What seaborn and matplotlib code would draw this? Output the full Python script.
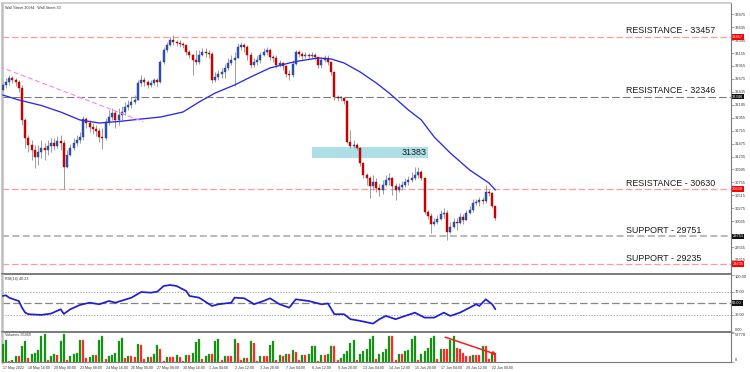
import matplotlib
matplotlib.use("Agg")
import matplotlib.pyplot as plt
from matplotlib.patches import Rectangle
import numpy as np
import seaborn as sns

sns.set_theme(style="white")
plt.rcParams["font.family"] = ["Liberation Sans", "DejaVu Sans"]
plt.rcParams["lines.scale_dashes"] = False

# ---------------- data ----------------
title_text = "Wall Street 30,H4:  Wall Street 30"
rsi_label = "RSI(14) 40.23"
vol_label = "Volumes 35969"

first_open = 32470
closes = [32562, 32618, 32692, 32655, 32618, 32507, 31913, 31579, 31449, 31356,
          31226, 31319, 31393, 31356, 31430, 31486, 31430, 31523, 31486, 31040,
          31263, 31393, 31486, 31542, 31597, 31931, 31857, 31783, 31746, 31709,
          31597, 31579, 31876, 31968, 32043, 31913, 32006, 32061, 32154, 32191,
          32247, 32284, 32600, 32655, 32618, 32562, 32600, 32655, 32618, 32989,
          33212, 33305, 33398, 33360, 33342, 33323, 33305, 33175, 33119, 33026,
          32989, 33119, 33175, 33156, 33138, 32655, 32711, 32767, 32804, 32878,
          32971, 33026, 33064, 33268, 33305, 33268, 33119, 32934, 32989, 33026,
          33119, 33175, 33212, 33082, 33064, 32934, 32971, 32915, 32767, 32748,
          32952, 33175, 33138, 33101, 33119, 33101, 33119, 33082, 32934, 33026,
          33064, 32989, 32804, 32340, 32321, 32321, 32265, 31505, 31430, 31449,
          31393, 31115, 30892, 30836, 30688, 30762, 30651, 30614, 30706, 30799,
          30836, 30688, 30614, 30669, 30706, 30762, 30799, 30836, 30892, 30948,
          30836, 30205, 30131, 29983, 30020, 30075, 30168, 30187, 29834, 29927,
          30020, 30001, 30112, 30057, 30187, 30242, 30372, 30391, 30428, 30409,
          30577, 30558, 30316, 30094]
highs = [32655, 32692, 32748, 32729, 32692, 32655, 32562, 31950, 31634, 31542,
         31449, 31449, 31542, 31486, 31542, 31579, 31579, 31616, 31634, 31542,
         31356, 31467, 31579, 31634, 31690, 31987, 31968, 31913, 31857, 31820,
         31764, 31764, 31950, 32098, 32135, 32098, 32135, 32173, 32247, 32284,
         32340, 32377, 32655, 32748, 32711, 32655, 32655, 32692, 32692, 33026,
         33268, 33360, 33453, 33490, 33398, 33398, 33360, 33305, 33212, 33138,
         33212, 33212, 33249, 33249, 33212, 33175, 32804, 32841, 32878, 32952,
         33064, 33119, 33175, 33342, 33360, 33342, 33305, 33175, 33064, 33101,
         33175, 33249, 33268, 33249, 33119, 33119, 33026, 32989, 32934, 32841,
         33026, 33212, 33212, 33175, 33175, 33156, 33175, 33156, 33082, 33082,
         33119, 33119, 32989, 32804, 32377, 32358, 32340, 32284, 31727, 31542,
         31486, 31412, 31133, 30929, 30873, 30892, 30836, 30725, 30799, 30892,
         30929, 30855, 30744, 30744, 30781, 30836, 30873, 30948, 31040, 31040,
         30985, 30855, 30242, 30187, 30094, 30150, 30242, 30279, 30242, 30020,
         30094, 30094, 30187, 30168, 30242, 30316, 30447, 30447, 30484, 30484,
         30706, 30614, 30577, 30316]
lows = [32432, 32507, 32562, 32600, 32544, 32432, 31820, 31393, 31319, 31170,
        31022, 31078, 31208, 31170, 31263, 31319, 31356, 31393, 31356, 30632,
        31022, 31245, 31356, 31430, 31486, 31542, 31764, 31690, 31653, 31616,
        31505, 31375, 31542, 31820, 31913, 31764, 31820, 31913, 32006, 32098,
        32135, 32210, 32284, 32544, 32544, 32507, 32525, 32562, 32544, 32600,
        32952, 33175, 33286, 33305, 33286, 33268, 33249, 33119, 33064, 32748,
        32934, 32952, 33101, 33082, 33064, 32600, 32618, 32655, 32692, 32692,
        32841, 32934, 32544, 33064, 33212, 33175, 33026, 32878, 32896, 32934,
        32971, 33101, 33119, 33026, 32989, 32878, 32896, 32841, 32711, 32655,
        32711, 32934, 33082, 33045, 33064, 33045, 33064, 33026, 32878, 32878,
        32989, 32934, 32748, 32284, 32265, 32265, 32210, 31486, 31393, 31393,
        31356, 31059, 30836, 30706, 30465, 30614, 30577, 30502, 30539, 30688,
        30706, 30521, 30428, 30577, 30614, 30669, 30706, 30762, 30799, 30836,
        30799, 30168, 30075, 29815, 29945, 29983, 30057, 30094, 29686, 29815,
        29908, 29871, 29983, 29983, 30094, 30168, 30205, 30335, 30316, 30354,
        30372, 30502, 30279, 30057]
volumes = [34000, 40000, 2300, 5000, 12500, 12500, 30000, 39000, 8000, 15000,
           17000, 22000, 48000, 51000, 5000, 12500, 15000, 14000, 39000, 51000,
           5000, 11000, 15000, 17000, 41000, 41000, 8000, 9000, 14000, 14000,
           40000, 48000, 7000, 12000, 13500, 17000, 39000, 44000, 8000, 12000,
           12000, 10000, 33000, 31000, 6000, 9000, 9000, 15000, 31000, 25000,
           3000, 9000, 9000, 9000, 13500, 10000, 3000, 13500, 13500, 17000,
           37000, 43000, 7000, 11000, 15000, 15000, 39000, 43000, 5000, 12000,
           12000, 12000, 43000, 35000, 5000, 8000, 8000,
           38000, 35000, 2900, 11700, 11700, 11700, 32200, 38000, 4700, 13500,
           12000, 15800, 14600, 21600, 19300, 4700, 13500, 13500, 14600, 29250,
           30400, 2900, 12900, 12900, 14600, 29250, 29250, 4700, 8800, 14600,
           20500, 35100, 40900, 4100, 15800, 20500, 24600, 42100, 48000, 7000,
           14600, 19300, 24600, 46800, 46800, 4700, 14600, 14600, 20500, 21600,
           42100, 46800, 4700, 14600, 20500, 26300, 43900, 48000, 7000, 24600,
           24600, 23400, 40900, 48000, 26300, 23400, 17500, 11700, 11700, 12900,
           12900, 12900, 30400, 30400, 5850, 17500, 17500]

ma_bars = [0, 5, 12, 18, 24, 30, 36, 43, 49, 56, 61, 66, 72, 77, 83, 89, 92, 98,
           102, 106, 111, 116, 120, 126, 130, 134, 139, 145, 151, 153]
ma_values = [32377, 32284, 32182, 32061, 31913, 31857, 31885, 31931, 31968, 32061,
             32247, 32414, 32562, 32711, 32878, 32971, 33008, 33064, 33045, 32971,
             32804, 32600, 32414, 32098, 31913, 31597, 31300, 30985, 30744, 30614]

rsi_bars = [0, 1, 2, 4, 5, 6, 7, 8, 12, 15, 18, 19, 21, 24, 27, 30, 33, 35, 40, 43,
            46, 48, 50, 52, 54, 57, 58, 61, 65, 67, 71, 72, 75, 77, 78, 81, 83, 86,
            89, 91, 95, 99, 101, 103, 106, 108, 111, 115, 117, 119, 122, 125, 128,
            131, 134, 137, 139, 142, 145, 147, 148, 150, 152, 153]
rsi_values = [62.9, 64.1, 59.9, 55.8, 54.0, 42.2, 33.4, 30.6, 29.4, 31.7, 39.4, 31.1,
              39.4, 47.0, 51.0, 48.2, 54.0, 51.0, 59.9, 69.9, 68.7, 70.5, 80.5, 82.3,
              80.5, 71.7, 62.9, 59.9, 45.2, 48.2, 51.0, 59.9, 58.8, 52.3, 48.2, 54.0,
              58.8, 48.2, 42.2, 57.0, 54.0, 48.2, 49.6, 30.6, 30.6, 21.8, 18.8, 14.0,
              21.8, 27.6, 21.8, 27.6, 33.4, 24.6, 24.6, 33.4, 27.6, 33.4, 42.2, 48.2,
              45.2, 57.0, 48.2, 39.4]

levels = [33457, 32346, 30630, 29751, 29235]
level_texts = ["RESISTANCE - 33457", "RESISTANCE - 32346", "RESISTANCE - 30630",
               "SUPPORT - 29751", "SUPPORT - 29235"]
level_kinds = ["pink", "grey", "pink", "lightgrey", "pink"]
level_text_bar = 193.5

trend_bars = [-1, 43.7]
trend_prices = [32902, 31881]

zone_bars = [96.2, 132.1]
zone_prices = [31208, 31412]
zone_text = "31383"

# 29795 sits behind the 29751 label box in the reference, so it is left out
price_ticks = [33875, 33635, 33395, 33155, 32915, 32675, 32435, 32195, 31955, 31715,
               31475, 31235, 30995, 30755, 30515, 30275, 30035, 29555, 29315]
rsi_levels = [70, 50, 30]
vol_max = 53778

x_tick_bars = list(range(0, 153, 8))
x_tick_labels = ["17 May 2022", "18 May 16:00", "20 May 00:00", "23 May 08:00",
                 "24 May 16:00", "26 May 00:00", "27 May 08:00", "30 May 16:00",
                 "1 Jun 04:00", "2 Jun 12:00", "3 Jun 20:00", "7 Jun 04:00",
                 "8 Jun 12:00", "9 Jun 20:00", "13 Jun 04:00", "14 Jun 12:00",
                 "15 Jun 20:00", "17 Jun 04:00", "20 Jun 12:00", "22 Jun 00:00"]

arrow_from = (137.4, 45400)
arrow_to = (153.4, 14300)

# ---------------- derived ----------------
n = min(len(closes), len(highs), len(lows))
bars = np.arange(n)
c = np.array(closes[:n], dtype=float)
o = np.array([first_open] + closes[:n - 1], dtype=float)
h = np.array(highs[:n], dtype=float)
l = np.array(lows[:n], dtype=float)
up = c >= o
body_bot = np.minimum(o, c)
body_h = np.maximum(np.abs(c - o), 12)
wick_lo = np.minimum(l, body_bot)
wick_hi = np.maximum(h, np.maximum(o, c))

vol = np.array(volumes, dtype=float)
vbars = np.arange(len(vol))
vol_up = np.concatenate([[True], vol[1:] > vol[:-1]])

# ---------------- figure ----------------
fig = plt.figure(figsize=(7.5, 3.72), dpi=100)
L, W = 0.00333, 0.97067
ax = fig.add_axes([L, 0.26344, W, 0.72849])
ax_rsi = fig.add_axes([L, 0.10887, W, 0.15188], sharex=ax)
ax_vol = fig.add_axes([L, 0.02554, W, 0.0806], sharex=ax)

TICK_FS = 2.9
TXT_C = "#333333"

# main panel
ax.vlines(bars, wick_lo, wick_hi, color="#9c9c9c", lw=0.7, zorder=2)
ax.bar(bars[up], body_h[up], bottom=body_bot[up], width=0.62, color="#2f55b5",
       edgecolor="#1d3c8c", linewidth=0.3, zorder=3)
ax.bar(bars[~up], body_h[~up], bottom=body_bot[~up], width=0.62, color="#d80000",
       edgecolor="#a00000", linewidth=0.3, zorder=3)

sns.lineplot(x=ma_bars, y=ma_values, ax=ax, color="#2a2ae8", lw=0.95, zorder=4)
sns.lineplot(x=trend_bars, y=trend_prices, ax=ax, color="#ff7cff", lw=0.8,
             linestyle=(0, (3.5, 2.0)), zorder=4)

styles = {
    "pink": dict(color="#ff9a9a", lw=0.9, linestyle=(0, (4.8, 2.0))),
    "grey": dict(color="#7c7c7c", lw=0.8, linestyle=(0, (5.5, 2.2))),
    "lightgrey": dict(color="#b4b4b4", lw=1.3, linestyle=(0, (5.0, 2.5))),
}
box_colors = {"pink": "#ff0000", "grey": "#111111", "lightgrey": "#111111"}
for lev, txt, kind in zip(levels, level_texts, level_kinds):
    ax.axhline(lev, zorder=1, **styles[kind])
    ax.annotate(txt, xy=(level_text_bar, lev), xytext=(0, 2.4),
                textcoords="offset points", fontsize=6.4, ha="left",
                va="baseline", color="#1a1a1a")
    ax.text(1.0025, lev, str(lev), transform=ax.get_yaxis_transform(),
            fontsize=TICK_FS, color="white", ha="left", va="center", zorder=6,
            bbox=dict(boxstyle="square,pad=0.2", fc=box_colors[kind], ec="none"),
            clip_on=False)

ax.add_patch(Rectangle((zone_bars[0], zone_prices[0]), zone_bars[1] - zone_bars[0],
                       zone_prices[1] - zone_prices[0], facecolor="#ace0e6",
                       edgecolor="none", zorder=1.5))
ax.text(zone_bars[1] - 0.6, (zone_prices[0] + zone_prices[1]) / 2, zone_text,
        fontsize=6.4, ha="right", va="center", color="#1a1a1a", zorder=5)

ax.text(0.004, 0.992, title_text, transform=ax.transAxes, fontsize=2.7,
        color=TXT_C, ha="left", va="top")

ax.set_xlim(-0.05, 226.0)
ax.set_ylim(29055, 34084)
ax.yaxis.tick_right()
ax.set_yticks(price_ticks)
ax.set_yticklabels([str(t) for t in price_ticks])

# RSI panel
sns.lineplot(x=rsi_bars, y=rsi_values, ax=ax_rsi, color="#1e1ed2", lw=1.25, zorder=3)
for lv in rsi_levels:
    if lv == 50:
        ax_rsi.axhline(lv, color="#858585", lw=0.9, linestyle=(0, (5.5, 2.2)), zorder=1)
    else:
        ax_rsi.axhline(lv, color="#a8a8a8", lw=0.7, linestyle=(0, (1.0, 1.0)), zorder=1)
ax_rsi.set_ylim(0, 100)
ax_rsi.yaxis.tick_right()
ax_rsi.set_yticks([100, 70, 30, 0])
ax_rsi.set_yticklabels(["100.00", "70.00", "30.00", "0.00"])
ax_rsi.text(1.0025, 50, "50.00", transform=ax_rsi.get_yaxis_transform(),
            fontsize=TICK_FS, color="white", ha="left", va="center",
            bbox=dict(boxstyle="square,pad=0.2", fc="#111111", ec="none"), clip_on=False)
ax_rsi.text(0.004, 0.97, rsi_label, transform=ax_rsi.transAxes, fontsize=2.7,
            color=TXT_C, ha="left", va="top")

# Volume panel
ax_vol.bar(vbars[vol_up], vol[vol_up], width=0.62, color="#0c8a0c",
           edgecolor="#48b848", linewidth=0.25, zorder=3)
ax_vol.bar(vbars[~vol_up], vol[~vol_up], width=0.62, color="#ff1a1a",
           edgecolor="#ff7070", linewidth=0.25, zorder=3)
ax_vol.annotate("", xy=arrow_to, xytext=arrow_from,
                arrowprops=dict(arrowstyle="-|>", color="#f02020", lw=1.1,
                                mutation_scale=5, shrinkA=0, shrinkB=0), zorder=5)
ax_vol.set_ylim(0, vol_max)
ax_vol.yaxis.tick_right()
ax_vol.set_yticks([vol_max, 0])
ax_vol.set_yticklabels([str(vol_max), "0"])
ax_vol.text(0.004, 0.97, vol_label, transform=ax_vol.transAxes, fontsize=2.7,
            color=TXT_C, ha="left", va="top")
ax_vol.set_xticks(x_tick_bars)
ax_vol.set_xticklabels(x_tick_labels)

for a in (ax, ax_rsi, ax_vol):
    a.set_facecolor("white")
    a.grid(False)
    a.tick_params(axis="y", which="both", direction="out", length=1.8, width=0.4,
                  pad=1.2, colors="#666666", labelsize=TICK_FS, labelcolor=TXT_C,
                  left=False, right=True, labelleft=False, labelright=True)
    a.spines["left"].set_color("#bdbdbd")
    a.spines["left"].set_linewidth(1.8)
    a.spines["right"].set_color("#7a7a7a")
    a.spines["right"].set_linewidth(0.8)
    a.spines["top"].set_visible(False)
    a.spines["bottom"].set_color("#7a7a7a")
    a.spines["bottom"].set_linewidth(1.4)
ax.spines["top"].set_visible(True)
ax.spines["top"].set_color("#c8c8c8")
ax.spines["top"].set_linewidth(1.2)
ax_vol.spines["bottom"].set_linewidth(0.8)

for a in (ax, ax_rsi):
    a.tick_params(axis="x", bottom=False, labelbottom=False)
ax_vol.tick_params(axis="x", direction="out", length=1.5, width=0.4, pad=0.8,
                   colors="#666666", labelsize=2.6, labelcolor=TXT_C)
for lbl in ax_vol.get_xticklabels():
    lbl.set_ha("left")
for lbl, va in zip(ax_rsi.get_yticklabels(), ["top", "center", "center", "bottom"]):
    lbl.set_va(va)
for lbl, va in zip(ax_vol.get_yticklabels(), ["top", "bottom"]):
    lbl.set_va(va)

fig.savefig("out.png", dpi=100, facecolor="white")
